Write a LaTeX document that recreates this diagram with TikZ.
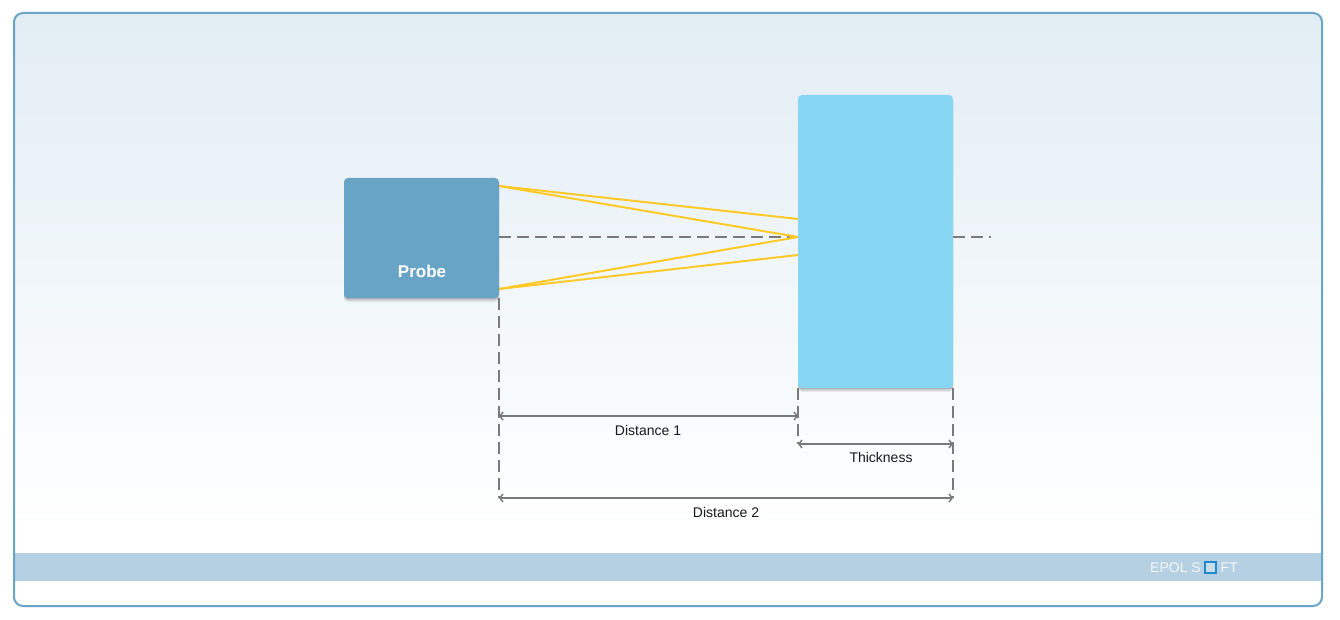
\documentclass[tikz,border=0pt]{standalone}
\usepackage{fontspec}
\setmainfont{Liberation Sans}
\usetikzlibrary{arrows.meta}
\definecolor{framecol}{HTML}{6AA5C8}
\definecolor{probecol}{HTML}{68A4C6}
\definecolor{platecol}{HTML}{87D7F4}
\definecolor{beamcol}{HTML}{FFCA28}
\definecolor{guidecol}{HTML}{7A7A7A}
\definecolor{bandcol}{HTML}{B4D0E2}
\definecolor{skycol}{HTML}{E2EDF4}
\definecolor{logocol}{HTML}{1E88D0}
\tikzstyle{softshadow} = [preaction={fill=black, opacity=0.07, transform canvas={yshift=-4pt}}, preaction={fill=black, opacity=0.10, transform canvas={yshift=-2.5pt}}, preaction={fill=black, opacity=0.14, transform canvas={yshift=-1.2pt}}]
\tikzstyle{block} = [rectangle, rounded corners=4pt, inner sep=0pt, softshadow]
\tikzstyle{beam} = [draw=beamcol, line width=2pt]
\tikzstyle{guide} = [draw=guidecol, line width=1.5pt, dash pattern=on 12pt off 6pt]
\tikzstyle{span} = [draw=guidecol, line width=1.5pt, {Straight Barb[length=3pt,width=8pt]}-{Straight Barb[length=3pt,width=8pt]}]
\tikzstyle{spanlabel} = [text=black!90, font=\fontsize{14}{16}\selectfont, inner sep=0pt]
\tikzstyle{logotext} = [text=white!88!bandcol, font=\fontsize{14}{16}\selectfont, inner sep=0pt]

\begin{document}
\begin{tikzpicture}[x=1pt, y=-1pt, >=stealth]
	\useasboundingbox (0,0) rectangle (1340,620);
	% panel and footer band
	\fill [white] (0,0) rectangle (1340,620);
	\begin{scope}
		\clip [rounded corners=9pt] (14,13) rectangle (1322,606);
		\shade [top color=skycol, bottom color=white] (14,13) rectangle (1322,530);
		\fill [bandcol] (14,553) rectangle (1322,581);
	\end{scope}
	\draw [framecol, line width=2pt, rounded corners=9pt] (14,13) rectangle (1322,606);

	% points on the two blocks
	\coordinate (beamtop) at (499,186);
	\coordinate (beambottom) at (499,289);
	\coordinate (hitup) at (798,219);
	\coordinate (hitmid) at (798,237);
	\coordinate (hitdown) at (798,255);
	\coordinate (axisstart) at (499,237);
	\coordinate (axisback) at (953,237);
	\coordinate (axisend) at (991,237);

	\draw [guide] (axisstart) -- (hitmid);
	\draw [beam] (beamtop) -- (hitup);
	\draw [beam] (beamtop) -- (hitmid);
	\draw [beam] (beambottom) -- (hitmid);
	\draw [beam] (beambottom) -- (hitdown);
	\draw [guide] (axisback) -- (axisend);

	\node [block, fill=probecol, minimum width=155pt, minimum height=120pt] (probe) at (421.5,238) {};
	\node [block, fill=platecol, minimum width=155pt, minimum height=293pt] (plate) at (875.5,241.5) {};
	\node [text=white, font=\fontsize{17}{19}\bfseries\selectfont, inner sep=0pt] (probelabel) at (422,271) {Probe};

	% dimension lines
	\coordinate (probefoot) at (499,298);
	\coordinate (plateleft) at (798,388);
	\coordinate (plateright) at (953,388);
	\coordinate (d1start) at (499,416);
	\coordinate (d1end) at (798,416);
	\coordinate (thickstart) at (798,444);
	\coordinate (thickend) at (953,444);
	\coordinate (d2start) at (499,498);
	\coordinate (d2end) at (953,498);

	\draw [guide] (probefoot) -- (d2start);
	\draw [guide] (plateleft) -- (thickstart);
	\draw [guide] (plateright) -- (d2end);
	\draw [span] (d1start) -- (d1end);
	\draw [span] (thickstart) -- (thickend);
	\draw [span] (d2start) -- (d2end);

	\node [spanlabel] (distance1) at (648,430.5) {Distance 1};
	\node [spanlabel] (thickness) at (881,457.5) {Thickness};
	\node [spanlabel] (distance2) at (726,512.5) {Distance 2};

	% footer logo
	\node [logotext, anchor=east] (logoleft) at (1201,567.5) {EPOL S};
	\node [draw=logocol, fill=bandcol!70!white, line width=2.2pt, minimum size=10.8pt, inner sep=0pt] (logobox) at (1210.5,567.5) {};
	\node [logotext, anchor=west] (logoright) at (1220.5,567.5) {FT};
\end{tikzpicture}
\end{document}
